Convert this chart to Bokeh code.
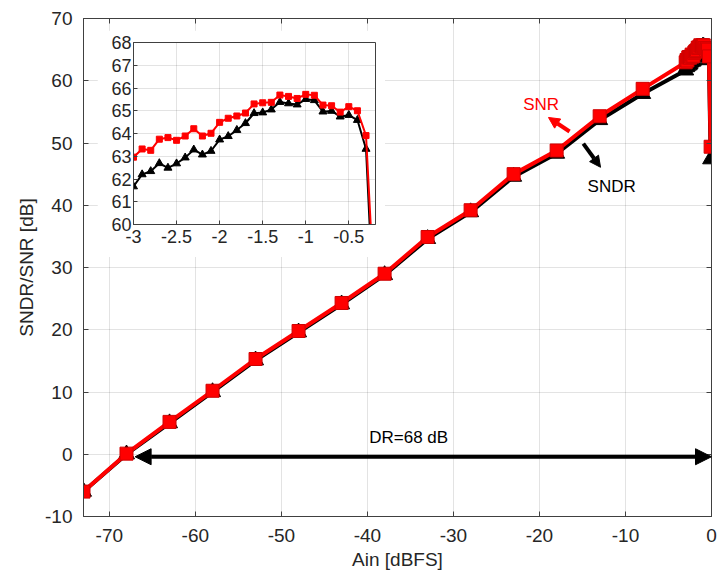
from bokeh.plotting import figure
from bokeh.models import Range1d, LinearAxis, Arrow, NormalHead, Label, FixedTicker
from bokeh.embed import file_html
from bokeh.resources import INLINE

# ---------------- data ----------------
ain_coarse = [-73, -68, -63, -58, -53, -48, -43, -38, -33, -28, -23, -18, -13, -8]
snr_coarse = [-6.0, 0.1, 5.2, 10.2, 15.3, 19.8, 24.3, 29.0, 34.9, 39.2, 45.0, 48.8, 54.3, 58.7]
sndr_coarse = [-6.0, 0.0, 5.0, 10.0, 15.1, 19.6, 24.1, 28.8, 34.6, 38.9, 44.6, 48.3, 53.7, 57.9]

ain_fine = [-3.0, -2.9, -2.8, -2.7, -2.6, -2.5, -2.4, -2.3, -2.2, -2.1,
            -2.0, -1.9, -1.8, -1.7, -1.6, -1.5, -1.4, -1.3, -1.2, -1.1,
            -1.0, -0.9, -0.8, -0.7, -0.6, -0.5, -0.4, -0.3]
snr_fine = [62.96, 63.32, 63.26, 63.75, 63.82, 63.70, 63.89, 64.21, 63.89, 64.01,
            64.49, 64.67, 64.77, 64.90, 65.30, 65.35, 65.37, 65.69, 65.63, 65.54,
            65.72, 65.68, 65.25, 65.22, 64.94, 65.18, 65.00, 63.91]
sndr_fine = [61.67, 62.20, 62.34, 62.69, 62.49, 62.68, 62.94, 63.29, 63.07, 63.23,
             63.73, 63.88, 64.15, 64.45, 64.89, 64.92, 65.05, 65.38, 65.32, 65.27,
             65.51, 65.46, 64.96, 64.99, 64.74, 64.81, 64.59, 63.32]

ain_last = [-0.1]
snr_last = [49.4]
sndr_last = [47.4]

ain = ain_coarse + ain_fine + ain_last
snr = snr_coarse + snr_fine + snr_last
sndr = sndr_coarse + sndr_fine + sndr_last

main_xticks = [-70, -60, -50, -40, -30, -20, -10, 0]
main_xlabels = ["-70", "-60", "-50", "-40", "-30", "-20", "-10", "0"]
main_yticks = [-10, 0, 10, 20, 30, 40, 50, 60, 70]
main_ylabels = ["-10", "0", "10", "20", "30", "40", "50", "60", "70"]
inset_xticks = [-3, -2.5, -2, -1.5, -1, -0.5]
inset_xlabels = ["-3", "-2.5", "-2", "-1.5", "-1", "-0.5"]
inset_yticks = [60, 61, 62, 63, 64, 65, 66, 67, 68]

FONT = "Liberation Sans"
AX = "#404040"
TXT = "#262626"
RED = "#ff0000"


def style_axis(ax, size, standoff, tick_in=5):
    ax.axis_line_color = AX
    ax.major_tick_line_color = AX
    ax.major_tick_in = tick_in
    ax.major_tick_out = 0
    ax.minor_tick_line_color = None
    ax.major_label_text_font = FONT
    ax.major_label_text_font_size = size
    ax.major_label_text_color = TXT
    ax.major_label_standoff = standoff
    ax.axis_label_text_font = FONT
    ax.axis_label_text_font_style = "normal"
    ax.axis_label_text_color = TXT


# ---------------- main figure ----------------
p = figure(frame_width=628, frame_height=498, x_range=Range1d(-73, 0), y_range=Range1d(-10, 70),
           output_backend="svg", toolbar_location=None,
           min_border_left=83, min_border_right=13, min_border_top=18, min_border_bottom=58)
p.background_fill_color = "white"
p.border_fill_color = "white"
p.outline_line_color = AX
p.outline_line_width = 1

p.xaxis.ticker = FixedTicker(ticks=main_xticks)
p.yaxis.ticker = FixedTicker(ticks=main_yticks)
p.xaxis.major_label_overrides = {t: s for t, s in zip(main_xticks, main_xlabels)}
p.yaxis.major_label_overrides = {t: s for t, s in zip(main_yticks, main_ylabels)}
p.xgrid.ticker = FixedTicker(ticks=main_xticks)
p.ygrid.ticker = FixedTicker(ticks=main_yticks)
for g in (p.xgrid, p.ygrid):
    g.grid_line_color = "#262626"
    g.grid_line_alpha = 0.13

style_axis(p.xaxis[0], "19px", 12)
style_axis(p.yaxis[0], "19px", 11)
p.xaxis.axis_label = "Ain [dBFS]"
p.yaxis.axis_label = "SNDR/SNR [dB]"
p.xaxis.axis_label_text_font_size = "19px"
p.yaxis.axis_label_text_font_size = "19px"
p.xaxis.axis_label_standoff = 4
p.yaxis.axis_label_standoff = 5

top_ax = LinearAxis(ticker=FixedTicker(ticks=main_xticks))
style_axis(top_ax, "0px", 0)
top_ax.major_label_text_alpha = 0
p.add_layout(top_ax, "above")
right_ax = LinearAxis(ticker=FixedTicker(ticks=main_yticks))
style_axis(right_ax, "0px", 0)
right_ax.major_label_text_alpha = 0
p.add_layout(right_ax, "right")

# SNDR (black, underneath)
p.line(ain, sndr, line_color="black", line_width=4)
p.scatter(ain, sndr, marker="triangle", size=16, fill_color="black", line_color="black")
# SNR (red, on top)
p.line(ain, snr, line_color=RED, line_width=4)
p.scatter(ain, snr, marker="square", size=13, fill_color=RED, line_color="#d00000")

# annotations
p.add_layout(Arrow(start=NormalHead(size=16, fill_color="black", line_color="black"),
                   end=NormalHead(size=16, fill_color="black", line_color="black"),
                   x_start=-67, y_start=-0.4, x_end=0, y_end=-0.4,
                   line_color="black", line_width=4))
p.add_layout(Label(x=-35.2, y=2.7, text="DR=68 dB", text_align="center", text_baseline="middle",
                   text_font=FONT, text_font_size="17px", text_color="black"))
p.add_layout(Arrow(end=NormalHead(size=11, fill_color=RED, line_color=RED),
                   x_start=-16.5, y_start=51.85, x_end=-18.95, y_end=54.1,
                   line_color=RED, line_width=4))
p.add_layout(Label(x=-19.8, y=56.2, text="SNR", text_align="center", text_baseline="middle",
                   text_font=FONT, text_font_size="17px", text_color=RED))
p.add_layout(Arrow(end=NormalHead(size=11, fill_color="black", line_color="black"),
                   x_start=-14.9, y_start=49.9, x_end=-12.9, y_end=46.1,
                   line_color="black", line_width=4))
p.add_layout(Label(x=-11.6, y=43.0, text="SNDR", text_align="center", text_baseline="middle",
                   text_font=FONT, text_font_size="17px", text_color="black"))

# ---------------- inset figure (separate root, overlaid) ----------------
q = figure(frame_width=242, frame_height=182, x_range=Range1d(-3, -0.19), y_range=Range1d(60, 68),
           output_backend="svg", toolbar_location=None,
           min_border_left=36, min_border_right=10, min_border_top=12, min_border_bottom=33,
           styles={"position": "absolute", "left": "97px", "top": "30px"})
q.background_fill_color = "white"
q.border_fill_color = "white"
q.outline_line_color = AX
q.xaxis.ticker = FixedTicker(ticks=inset_xticks)
q.xaxis.major_label_overrides = {t: s for t, s in zip(inset_xticks, inset_xlabels)}
q.yaxis.ticker = FixedTicker(ticks=inset_yticks)
q.xgrid.ticker = FixedTicker(ticks=inset_xticks)
q.ygrid.ticker = FixedTicker(ticks=inset_yticks)
for g in (q.xgrid, q.ygrid):
    g.grid_line_color = "#262626"
    g.grid_line_alpha = 0.13
style_axis(q.xaxis[0], "18px", 5, tick_in=4)
style_axis(q.yaxis[0], "18px", 2, tick_in=4)

q.line(ain, sndr, line_color="black", line_width=2)
q.scatter(ain, sndr, marker="triangle", size=8, fill_color="black", line_color="black")
q.line(ain, snr, line_color=RED, line_width=2)
q.scatter(ain, snr, marker="square", size=6, fill_color=RED, line_color=RED)

open("out.html", "w").write(file_html([p, q], INLINE))
